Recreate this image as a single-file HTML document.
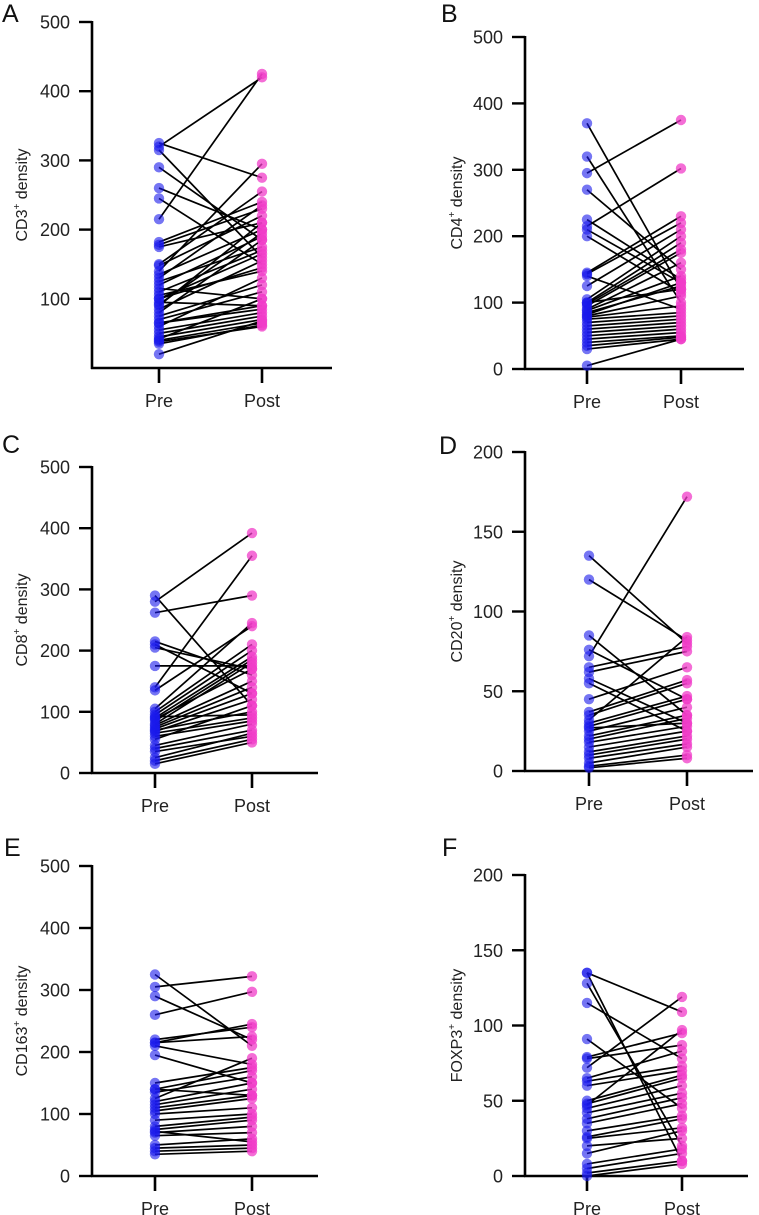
<!DOCTYPE html>
<html><head><meta charset="utf-8"><style>
html,body{margin:0;padding:0;background:#fff}
svg{display:block;font-family:"Liberation Sans",Arial,sans-serif}
</style></head><body>
<svg id="fig" width="759" height="1215" viewBox="0 0 759 1215" xmlns="http://www.w3.org/2000/svg"></svg>
<script>
const groups = ["Pre","Post"];
const cd3Pre  = [325,320,315,290,260,245,215,182,178,175,150,148,140,135,130,125,120,115,110,105,100,95,90,85,80,75,70,65,60,55,50,45,42,40,38,35,20,100,92,65];
const cd3Post = [275,420,160,185,200,150,425,240,230,210,255,220,295,200,235,175,190,100,170,140,165,90,210,155,185,120,110,85,130,80,75,70,100,65,60,62,68,145,195,90];
const cd4Pre  = [370,320,295,270,225,215,210,200,145,143,125,105,100,98,95,90,88,85,80,78,75,70,65,60,55,50,45,40,35,30,5,100,82,140];
const cd4Post = [120,100,375,150,135,302,130,115,230,220,210,200,190,180,175,160,140,125,110,95,85,80,75,70,65,60,55,50,48,45,45,120,130,90];
const cd8Pre  = [290,280,262,215,210,205,175,140,135,105,100,95,90,85,80,78,75,72,70,68,65,60,55,45,40,35,25,20,15,88,92];
const cd8Post = [110,392,290,160,130,170,175,355,240,245,210,200,190,185,180,150,140,130,100,120,90,85,110,80,70,60,65,55,50,170,95];
const cd20Pre  = [135,120,85,76,72,65,62,58,55,45,37,35,30,28,25,22,20,18,15,12,10,8,5,3,2,32,27];
const cd20Post = [80,82,35,45,172,78,75,30,25,65,57,55,47,45,40,35,33,28,25,22,20,17,15,10,8,84,30];
const cd163Pre  = [325,305,290,260,220,215,210,195,150,140,135,125,120,115,110,105,100,90,80,75,70,65,50,45,40,35,215,140,72];
const cd163Post = [210,322,220,297,240,245,180,150,175,170,160,190,150,140,130,125,110,100,95,90,80,70,60,50,45,40,225,130,55];
const foxPre  = [135,135,128,115,91,79,78,72,65,63,50,48,45,42,38,35,30,26,25,20,15,8,5,2,0,60,47];
const foxPost = [10,109,20,78,45,95,87,119,83,73,67,65,60,55,52,48,40,38,32,25,30,18,15,10,8,70,97];
const yTicks500 = [0,100,200,300,400,500];
const yTicks200 = [0,50,100,150,200];

const NS = "http://www.w3.org/2000/svg";
const svg = document.getElementById("fig");
function mk(tag, attrs, parent){const e=document.createElementNS(NS,tag);for(const k in attrs)e.setAttribute(k,attrs[k]);(parent||svg).appendChild(e);return e;}

function panel(p){
  const g = mk("g",{});
  
  
  const y = v => p.y0 + (p.yTop - p.y0) * v / p.max;
  const xs = [p.xPre, p.xPost];
  const lt = mk("text",{x:p.lx,y:p.ly,"font-size":25,fill:"#111"},g); lt.textContent=p.letter;
  
  
  const ya = mk("line",{x1:p.ax,y1:p.yTop-1,x2:p.ax,y2:p.y0+1,stroke:"#000","stroke-width":2.6},g);
  
  
  const xa = mk("line",{x1:p.ax-1,y1:p.y0,x2:p.xEnd,y2:p.y0,stroke:"#000","stroke-width":2.6},g);
  
  
  p.ticks.forEach(t=>{
    if(p.skipZero && t===0) return;
    mk("line",{x1:p.ax-13,y1:y(t),x2:p.ax,y2:y(t),stroke:"#000","stroke-width":2.4},g);
    const tx = mk("text",{x:p.ax-22,y:y(t)+6.5,"font-size":18,"text-anchor":"end",fill:"#222"},g);
    tx.textContent=t;
    
    
  });
  groups.forEach((gname,i)=>{
    mk("line",{x1:xs[i],y1:p.y0,x2:xs[i],y2:p.y0+15,stroke:"#000","stroke-width":2.6},g);
    const tx = mk("text",{x:xs[i],y:p.y0+39,"font-size":18,"text-anchor":"middle",fill:"#222"},g);
    tx.textContent=gname;
    
    
  });
  const cy = (p.yTop+p.y0)/2;
  const tt = mk("text",{x:0,y:0,"font-size":16,"text-anchor":"middle",fill:"#222",transform:`translate(${p.tx},${cy}) rotate(-90)`},g);
  
  
  const s1 = mk("tspan",{},tt); s1.textContent=p.marker;
  const s2 = mk("tspan",{"font-size":10,dy:-7},tt); s2.textContent="+";
  const s3 = mk("tspan",{dy:7},tt); s3.textContent=" density";
  p.pre.forEach((v,i)=>{
    const l = mk("line",{x1:xs[0],y1:y(v),x2:xs[1],y2:y(p.post[i]),stroke:"#000","stroke-width":1.7},g);
    
    
  });
  p.pre.forEach(v=>{
    const c = mk("circle",{cx:xs[0],cy:y(v),r:5.2,fill:"rgba(25,25,235,0.6)"},g);
    
    
  });
  p.post.forEach(v=>{
    const c = mk("circle",{cx:xs[1],cy:y(v),r:5.2,fill:"rgba(240,60,200,0.75)"},g);
    
    
  });
}

panel({letter:"A",lx:2,ly:22,ax:92,yTop:22,y0:368,max:500,xEnd:332,xPre:159,xPost:262,ticks:yTicks500,skipZero:true,tx:27,marker:"CD3",pre:cd3Pre,post:cd3Post});
panel({letter:"B",lx:441,ly:22,ax:525,yTop:37,y0:369,max:500,xEnd:744,xPre:587,xPost:681,ticks:yTicks500,tx:462,marker:"CD4",pre:cd4Pre,post:cd4Post});
panel({letter:"C",lx:2,ly:453,ax:92,yTop:467,y0:773,max:500,xEnd:318,xPre:155,xPost:252,ticks:yTicks500,tx:27,marker:"CD8",pre:cd8Pre,post:cd8Post});
panel({letter:"D",lx:439,ly:454,ax:525,yTop:452,y0:771,max:200,xEnd:753,xPre:589,xPost:687,ticks:yTicks200,tx:462,marker:"CD20",pre:cd20Pre,post:cd20Post});
panel({letter:"E",lx:4,ly:856,ax:92,yTop:866,y0:1176,max:500,xEnd:318,xPre:155,xPost:252,ticks:yTicks500,tx:27,marker:"CD163",pre:cd163Pre,post:cd163Post});
panel({letter:"F",lx:442,ly:856,ax:525,yTop:875,y0:1176,max:200,xEnd:748,xPre:587,xPost:682,ticks:yTicks200,tx:462,marker:"FOXP3",pre:foxPre,post:foxPost});
</script>
</body></html>
